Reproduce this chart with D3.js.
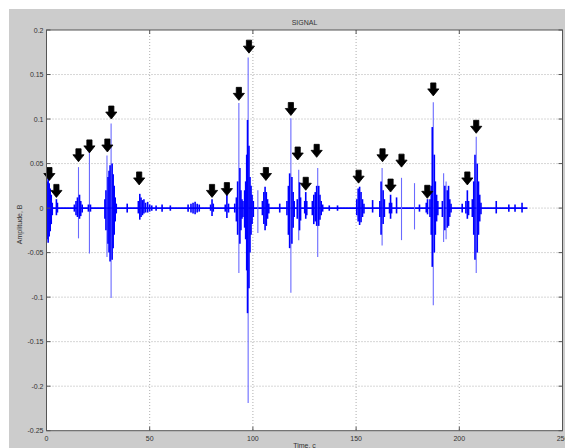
<!DOCTYPE html>
<html><head><meta charset="utf-8">
<script src="https://cdn.jsdelivr.net/npm/d3@7/dist/d3.min.js"></script>
<style>body{margin:0;background:#fff}svg{display:block}text{font-family:"Liberation Sans",Arial,sans-serif}</style>
</head><body>
<script>
// ---- data ----
const xTicks = [0, 50, 100, 150, 200, 250];
const yTicks = [-0.25, -0.2, -0.15, -0.1, -0.05, 0, 0.05, 0.1, 0.15, 0.2];
const yTickLabels = ["-0.25","-0.2","-0.15","-0.1","-0.05","0","0.05","0.1","0.15","0.2"];
const titleText = "SIGNAL";
const xLabel = "Time, c";
const yLabel = "Amplitude, B";
const signalEnd = 233;

// dense signal envelope (time, max, min)
const sigT  = [0.3,0.8,1.3,1.8,2.3,2.8,4.8,5.3,
  13.5,14.3,15.0,16.0,16.6,17.3,20.3,21.3,
  28.3,28.8,29.8,30.3,30.8,31.8,32.3,32.8,33.3,33.8,39.1,
  44.5,45.2,45.8,46.5,47.2,48,49,50,51,53.1,56,60,68.6,70,71,72,73,74,
  79.5,80.2,80.8,86.6,87.4,88.2,
  91.2,92.0,92.6,93.7,94.2,94.7,95.2,
  96.0,96.5,97.0,97.4,98.1,98.6,99.1,99.6,100.2,
  104.6,105.3,105.9,106.5,107.1,107.7,113,
  116.5,117.2,117.8,118.9,119.5,120.0,121.5,122.6,123.1,125.1,125.6,126.1,
  128.8,129.5,130.2,130.9,131.9,132.5,133.1,133.8,137,141,
  150.3,151,151.7,152.4,153.1,153.8,158,
  161.5,162.1,163.1,163.7,166.2,166.7,167.2,169.6,180.7,184,184.6,
  185.8,186.4,186.9,187.9,188.4,189,189.6,
  191.8,193,194.2,194.8,195.4,196,201.4,203.2,203.9,204.5,
  206.3,207,207.6,208.7,209.3,209.9,210.5,217.9,224,227,230.4];
const sigHi = [0.030,0.034,0.028,0.022,0.015,0.006,0.010,0.006,
  0.004,0.008,0.012,0.015,0.008,0.004,0.004,0.004,
  0.010,0.020,0.035,0.042,0.048,0.050,0.038,0.025,0.012,0.005,0.005,
  0.008,0.016,0.012,0.009,0.010,0.006,0.007,0.004,0.003,0.003,0.004,0.003,0.004,0.005,0.006,0.007,0.005,0.004,
  0.004,0.010,0.005,0.004,0.016,0.005,
  0.005,0.012,0.030,0.045,0.020,0.010,0.008,
  0.020,0.030,0.060,0.099,0.070,0.035,0.025,0.015,0.008,
  0.008,0.018,0.024,0.018,0.010,0.005,0.005,
  0.008,0.025,0.039,0.035,0.018,0.008,0.010,0.029,0.012,0.008,0.018,0.008,
  0.008,0.015,0.018,0.025,0.025,0.015,0.008,0.004,0.003,0.003,
  0.010,0.022,0.024,0.018,0.010,0.005,0.009,
  0.008,0.030,0.020,0.010,0.006,0.015,0.006,0.012,0.004,0.006,0.010,
  0.010,0.025,0.091,0.060,0.030,0.015,0.008,
  0.008,0.025,0.020,0.025,0.010,0.005,0.005,0.008,0.020,0.008,
  0.010,0.030,0.060,0.050,0.030,0.015,0.006,0.008,0.004,0.004,0.006];
const sigLo = [-0.035,-0.039,-0.032,-0.026,-0.018,-0.008,-0.008,-0.005,
  -0.004,-0.008,-0.010,-0.012,-0.009,-0.005,-0.004,-0.004,
  -0.012,-0.025,-0.040,-0.050,-0.060,-0.058,-0.045,-0.030,-0.015,-0.006,-0.005,
  -0.006,-0.013,-0.010,-0.008,-0.006,-0.005,-0.005,-0.004,-0.003,-0.003,-0.004,-0.003,-0.004,-0.005,-0.006,-0.007,-0.005,-0.004,
  -0.003,-0.009,-0.004,-0.004,-0.011,-0.005,
  -0.005,-0.015,-0.030,-0.040,-0.025,-0.012,-0.010,
  -0.022,-0.035,-0.070,-0.118,-0.090,-0.050,-0.030,-0.018,-0.010,
  -0.008,-0.018,-0.025,-0.020,-0.012,-0.006,-0.005,
  -0.008,-0.030,-0.045,-0.040,-0.022,-0.010,-0.012,-0.025,-0.014,-0.006,-0.012,-0.008,
  -0.008,-0.018,-0.015,-0.020,-0.020,-0.013,-0.008,-0.004,-0.003,-0.003,
  -0.008,-0.015,-0.019,-0.016,-0.010,-0.006,-0.005,
  -0.010,-0.030,-0.018,-0.010,-0.006,-0.012,-0.006,-0.006,-0.004,-0.005,-0.007,
  -0.010,-0.030,-0.066,-0.050,-0.030,-0.015,-0.008,
  -0.010,-0.025,-0.022,-0.020,-0.010,-0.005,-0.005,-0.006,-0.012,-0.008,
  -0.010,-0.030,-0.058,-0.050,-0.030,-0.015,-0.007,-0.006,-0.004,-0.004,-0.005];

// thin single-sample spikes (time, max, min)
const peakT  = [15.5,20.8,29.3,31.3,93.2,97.7,102.4,118.4,122.2,131.4,162.6,172,178.3,187.4,192.4,193.6,208.2];
const peakHi = [0.046,0.065,0.059,0.095,0.118,0.169,0.020,0.101,0.043,0.045,0.045,0.034,0.028,0.119,0.039,0.030,0.080];
const peakLo = [-0.034,-0.051,-0.055,-0.101,-0.073,-0.219,-0.028,-0.095,-0.036,-0.055,-0.042,-0.036,-0.024,-0.109,-0.038,-0.035,-0.073];

// arrow markers (time, tip amplitude)
const arrowT = [1.4,4.8,15.5,20.8,29.5,31.4,44.9,80.2,87.4,93.2,98.1,106.3,118.4,121.7,125.6,130.9,151.2,162.8,166.7,172,184.5,187.4,203.9,208.2];
const arrowV = [0.031,0.012,0.052,0.062,0.063,0.100,0.026,0.012,0.014,0.121,0.174,0.031,0.104,0.054,0.020,0.057,0.028,0.052,0.018,0.046,0.011,0.126,0.026,0.084];

// ---- drawing ----
const W = 565, H = 448;
const L = 46.5, R = 562.5, T = 30, B = 430.7;
const svg = d3.select("body").append("svg").attr("width", W).attr("height", H);
svg.append("rect").attr("x", 9).attr("y", 9).attr("width", W - 9).attr("height", H - 9).attr("fill", "#cccccc");
svg.append("rect").attr("x", L).attr("y", T).attr("width", R - L).attr("height", B - T).attr("fill", "#fff");

const x = d3.scaleLinear().domain([0, 250]).range([L, R]);
const y = d3.scaleLinear().domain([-0.25, 0.2]).range([B, T]);

// grid
const grid = svg.append("g").attr("stroke", "#9a9a9a").attr("stroke-width", 0.8).attr("stroke-dasharray", "1,2");
grid.selectAll(".gx").data(xTicks.slice(1, -1)).join("line")
  .attr("x1", d => x(d)).attr("x2", d => x(d)).attr("y1", T).attr("y2", B);
grid.selectAll(".gy").data(yTicks.slice(1, -1)).join("line")
  .attr("x1", L).attr("x2", R).attr("y1", d => y(d)).attr("y2", d => y(d));

// signal
const sig = svg.append("g");
sig.append("line").attr("x1", x(0)).attr("x2", x(signalEnd)).attr("y1", y(0)).attr("y2", y(0))
  .attr("stroke", "#0000ff").attr("stroke-width", 1.6);
sig.selectAll(".pk").data(peakT).join("line")
  .attr("x1", d => x(d)).attr("x2", d => x(d))
  .attr("y1", (d, i) => y(peakHi[i])).attr("y2", (d, i) => y(peakLo[i]))
  .attr("stroke", "#6a6aff").attr("stroke-width", 1.1);
sig.selectAll(".sg").data(sigT).join("line")
  .attr("x1", d => x(d)).attr("x2", d => x(d))
  .attr("y1", (d, i) => y(sigHi[i])).attr("y2", (d, i) => y(sigLo[i]))
  .attr("stroke", "#0000ff").attr("stroke-width", 1.6);

// arrows
svg.append("g").selectAll("path").data(arrowT).join("path")
  .attr("d", (d, i) => {
    const cx = x(d), ty = y(arrowV[i]);
    return `M${cx-2.6},${ty-13} h5.2 v6 h3 L${cx},${ty} L${cx-5.6},${ty-7} h3 Z`;
  })
  .attr("fill", "#000").attr("stroke", "#000").attr("stroke-width", 0.8).attr("stroke-linejoin", "round");

// box and ticks
const axc = "#555";
svg.append("rect").attr("x", L).attr("y", T).attr("width", R - L).attr("height", B - T)
  .attr("fill", "none").attr("stroke", axc).attr("stroke-width", 1);
const tk = svg.append("g").attr("stroke", axc).attr("stroke-width", 1);
xTicks.forEach(d => {
  tk.append("line").attr("x1", x(d)).attr("x2", x(d)).attr("y1", B).attr("y2", B - 4);
  tk.append("line").attr("x1", x(d)).attr("x2", x(d)).attr("y1", T).attr("y2", T + 4);
});
yTicks.forEach(d => {
  tk.append("line").attr("x1", L).attr("x2", L + 4).attr("y1", y(d)).attr("y2", y(d));
  tk.append("line").attr("x1", R).attr("x2", R - 4).attr("y1", y(d)).attr("y2", y(d));
});

// labels
const lab = svg.append("g").attr("font-size", 7).attr("fill", "#333");
lab.selectAll(".xl").data(xTicks).join("text")
  .attr("x", d => x(d)).attr("y", B + 10).attr("text-anchor", "middle").text(d => d);
lab.selectAll(".yl").data(yTicks).join("text")
  .attr("x", L - 3).attr("y", d => y(d) + 2.5).attr("text-anchor", "end").text((d, i) => yTickLabels[i]);
lab.append("text").attr("x", (L + R) / 2).attr("y", 25).attr("text-anchor", "middle").text(titleText);
lab.append("text").attr("x", (L + R) / 2).attr("y", 448).attr("text-anchor", "middle").text(xLabel);
lab.append("text").attr("transform", `translate(22,${(T + B) / 2 - 6}) rotate(-90)`)
  .attr("text-anchor", "middle").text(yLabel);
</script>
</body></html>
